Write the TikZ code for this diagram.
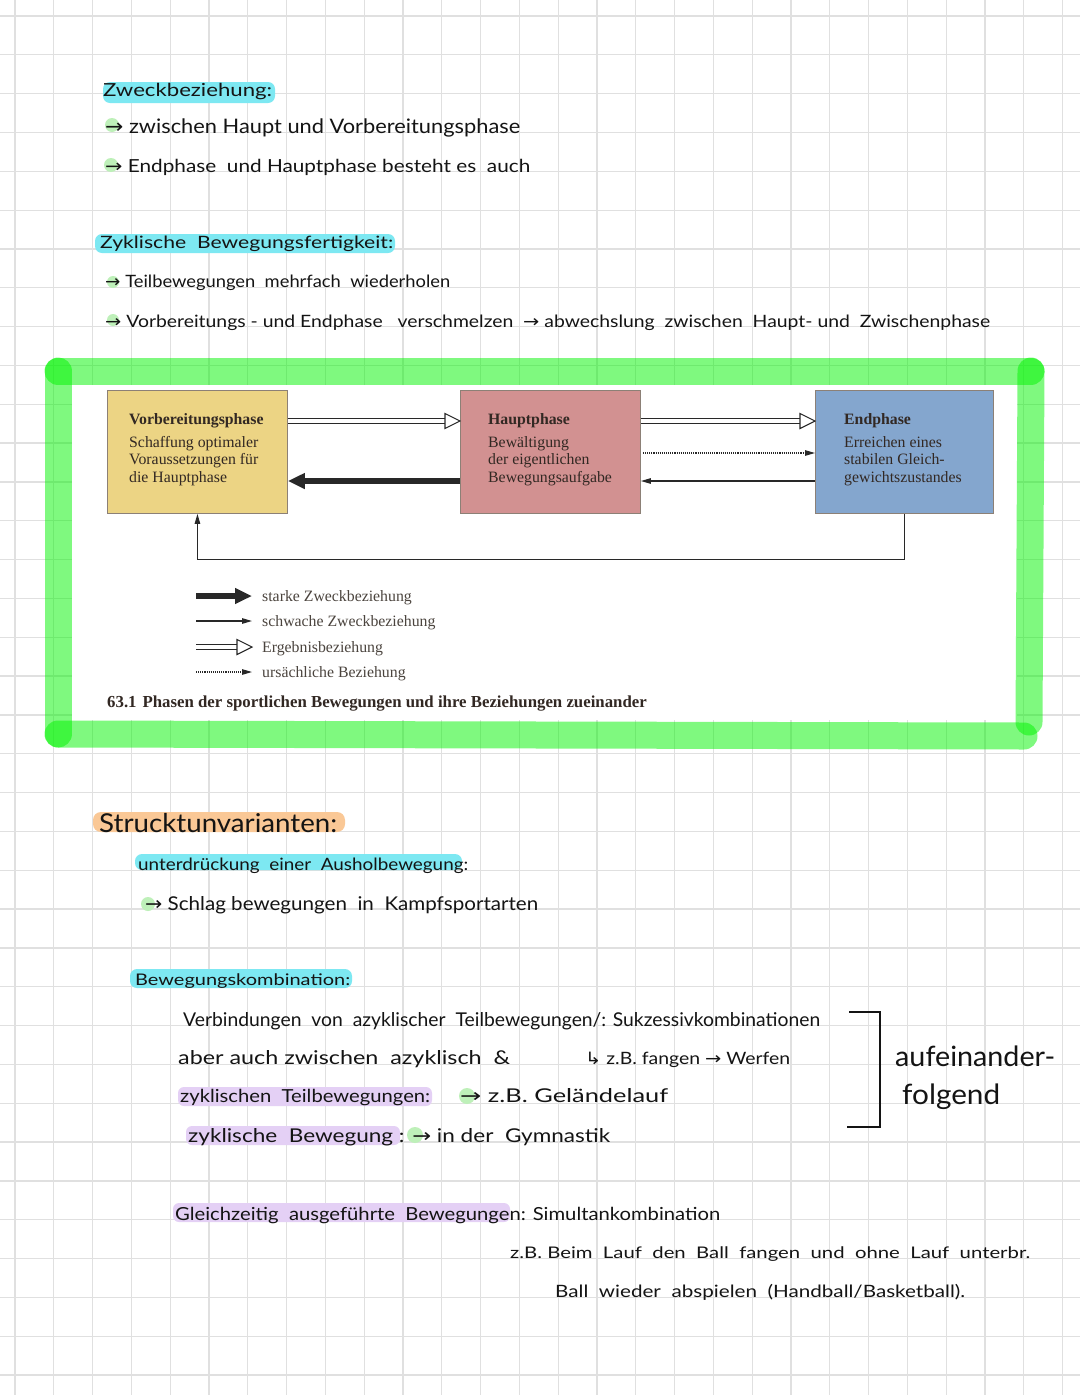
\documentclass[tikz,border=0pt]{standalone}
\usepackage{fontspec}
\usepackage{graphicx}
\setmainfont{Liberation Serif}
\newfontfamily\handfont{Lato}
\newfontfamily\symfont{DejaVu Sans}
\usetikzlibrary{arrows.meta,calc}
\definecolor{gridc}{RGB}{224,224,224}
\definecolor{hlgreen}{RGB}{0,245,0}
\definecolor{hcyan}{RGB}{125,232,242}
\definecolor{horange}{RGB}{250,200,150}
\definecolor{hpurple}{RGB}{228,208,245}
\definecolor{hdot}{RGB}{190,240,185}
\definecolor{boxa}{RGB}{236,212,132}
\definecolor{boxb}{RGB}{210,145,145}
\definecolor{boxc}{RGB}{132,166,206}
\definecolor{boxline}{RGB}{140,128,118}
\definecolor{dtext}{RGB}{50,40,35}
\definecolor{lgtext}{RGB}{75,68,62}
\definecolor{arrc}{RGB}{40,40,40}
\definecolor{inkc}{RGB}{20,20,20}
\newcommand\harr{{\symfont →}}
\newcommand\hwtext[6]{\node[anchor=base west, inner sep=0pt, text=inkc] (#1) at (#2,#3) {\resizebox{#4pt}{\height}{\handfont\fontsize{#5}{#5}\selectfont #6}};}
\newcommand\ergarrow[2]{\draw[ergline] (#1) -- ($(#2)+(-12,0)$); \draw[erghead] (#2) -- ++(-15,-7.5) -- ++(0,15) -- cycle;}
\begin{document}
\begin{tikzpicture}[x=1pt,y=-1pt,
  phase/.style={draw=boxline, line width=0.9pt, minimum width=180pt, minimum height=123pt, inner sep=0pt, anchor=north west},
  phasetext/.style={anchor=north west, inner sep=0pt, align=left, text=dtext, font=\fontsize{15.8}{17.5}\selectfont},
  strongarr/.style={draw=arrc, line width=6pt, -{Triangle[length=17pt,width=15pt]}},
  weakarr/.style={draw=arrc, line width=1.2pt, -{Triangle[length=10pt,width=5.5pt]}},
  causearr/.style={draw=arrc, line width=1.1pt, densely dotted, -{Triangle[length=10pt,width=5.5pt]}},
  ergline/.style={draw=arrc, line width=1.1pt, double=white, double distance=4.4pt},
  erghead/.style={draw=arrc, fill=white, line width=1.1pt, line join=miter},
  legtext/.style={anchor=base west, inner sep=0pt, text=lgtext, font=\fontsize{15.8}{18}\selectfont},
  hlstroke/.style={draw=hlgreen, draw opacity=0.5, line width=27pt, line cap=round},
  hlc/.style={fill=hcyan, rounded corners=7pt},
  hlo/.style={fill=horange, rounded corners=8pt},
  hlp/.style={fill=hpurple, rounded corners=6pt},
]
\useasboundingbox (0,0) rectangle (1080,1395);
\fill[white] (0,0) rectangle (1080,1395);
% grid paper
\foreach \i in {0,...,27} \draw[gridc, line width=1.3pt] ({15+38.8*\i},0) -- ({15+38.8*\i},1395);
\foreach \j in {0,...,35} \draw[gridc, line width=1.3pt] (0,{16+38.83*\j}) -- (1080,{16+38.83*\j});

% ---------- top notes ----------
\fill[hlc] (103,82) rectangle (275,103);
\fill[hdot] (112,125) circle (7);
\fill[hdot] (111,165) circle (7);
\hwtext{hz1}{103}{96}{169}{18}{Zweckbeziehung:}
\hwtext{hz2}{105}{133}{415}{20}{\harr\ zwischen Haupt und Vorbereitungsphase}
\hwtext{hz3}{105}{172}{425}{18}{\harr\ Endphase\ \ und Hauptphase besteht es\ \ auch}

\fill[hlc] (95,234) rectangle (395,253);
\fill[hdot] (113,282) circle (6);
\fill[hdot] (113,320) circle (6);
\hwtext{hy1}{100}{248}{293}{17}{Zyklische\ \ Bewegungsfertigkeit:}
\hwtext{hy2}{105}{287}{345}{17}{\harr\ Teilbewegungen\ \ mehrfach\ \ wiederholen}
\hwtext{hy3}{105}{327}{885}{17}{\harr\ Vorbereitungs - und Endphase\ \ \ verschmelzen\ \ \harr\ abwechslung\ \ zwischen\ \ Haupt- und\ \ Zwischenphase}

% ---------- figure ----------
\fill[white] (72,385) rectangle (1017,720);
\node[phase, fill=boxa] (b1) at (107,390) {};
\node[phase, fill=boxb] (b2) at (460,390) {};
\node[phase, fill=boxc, minimum width=178pt] (b3) at (815,390) {};
\node[phasetext] (t1) at ($(b1.north west)+(22,23)$) {\textbf{Vorbereitungsphase}\\[5.5pt]Schaffung optimaler\\Voraussetzungen für\\die Hauptphase};
\node[phasetext] (t2) at ($(b2.north west)+(28,23)$) {\textbf{Hauptphase}\\[5.5pt]Bewältigung\\der eigentlichen\\Bewegungsaufgabe};
\node[phasetext] (t3) at ($(b3.north west)+(29,23)$) {\textbf{Endphase}\\[5.5pt]Erreichen eines\\stabilen Gleich-\\gewichtszustandes};

\coordinate (e1s) at ($(b1.north east)+(0,31)$);
\coordinate (e1t) at ($(b2.north west)+(0,31)$);
\ergarrow{e1s}{e1t}
\coordinate (s1s) at ($(b2.north west)+(0,91)$);
\coordinate (s1t) at ($(b1.north east)+(0,91)$);
\draw[strongarr] (s1s) -- (s1t);
\coordinate (e2s) at ($(b2.north east)+(0,31)$);
\coordinate (e2t) at ($(b3.north west)+(0,31)$);
\ergarrow{e2s}{e2t}
\coordinate (c1s) at ($(b2.north east)+(2,63)$);
\coordinate (c1t) at ($(b3.north west)+(0,63)$);
\draw[causearr] (c1s) -- (c1t);
\coordinate (w1s) at ($(b3.north west)+(0,91)$);
\coordinate (w1t) at ($(b2.north east)+(0,91)$);
\draw[weakarr] (w1s) -- (w1t);
\draw[weakarr, line width=1pt] (b3.south) -- ++(0,46) -| (b1.south);

% legend
\coordinate (l1a) at (196,596); \coordinate (l1b) at (252,596);
\coordinate (l2a) at (196,621); \coordinate (l2b) at (252,621);
\coordinate (l3a) at (196,647); \coordinate (l3b) at (252,647);
\coordinate (l4a) at (196,672); \coordinate (l4b) at (252,672);
\draw[strongarr] (l1a) -- (l1b);
\draw[weakarr] (l2a) -- (l2b);
\ergarrow{l3a}{l3b}
\draw[causearr] (l4a) -- (l4b);
\node[legtext] (g1) at (262,601) {starke Zweckbeziehung};
\node[legtext] (g2) at (262,626) {schwache Zweckbeziehung};
\node[legtext] (g3) at (262,652) {Ergebnisbeziehung};
\node[legtext] (g4) at (262,677) {ursächliche Beziehung};
\node[anchor=base west, inner sep=0pt, text=dtext, font=\bfseries\fontsize{16.8}{18}\selectfont] (cap) at (107,707) {63.1\hspace{6pt}Phasen der sportlichen Bewegungen und ihre Beziehungen zueinander};

% green highlighter frame
\draw[hlstroke] (58,371) -- (1031,371);
\draw[hlstroke] (58,371) -- (58,734);
\draw[hlstroke] (58,734) -- (1024,736);
\draw[hlstroke] (1031,371) -- (1029,722);

% ---------- lower notes ----------
\fill[hlo] (93,812) rectangle (345,832);
\hwtext{hs0}{99}{832}{238}{26}{Strucktunvarianten:}
\fill[hlc] (135,854) rectangle (462,870);
\hwtext{hs1}{138}{870}{330}{17}{unterdrückung\ \ einer\ \ Ausholbewegung:}
\fill[hdot] (148,904) circle (7);
\hwtext{hs2}{145}{910}{393}{19}{\harr\ Schlag bewegungen\ \ in\ \ Kampfsportarten}

\fill[hlc] (130,969) rectangle (352,988);
\hwtext{hb0}{135}{985}{215}{16}{Bewegungskombination:}
\hwtext{hb1}{183}{1026}{637}{19}{Verbindungen\ \ von\ \ azyklischer\ \ Teilbewegungen/: Sukzessivkombinationen}
\hwtext{hb2}{178}{1064}{332}{19}{aber auch zwischen\ \ azyklisch\ \ \&}
\hwtext{hb3}{585}{1064}{205}{17}{{\symfont ↳} z.B. fangen \harr\ Werfen}
\fill[hlp] (178,1087) rectangle (432,1106);
\fill[hdot] (467,1096) circle (8);
\hwtext{hb4}{180}{1102}{250}{18}{zyklischen\ \ Teilbewegungen:}
\hwtext{hb5}{460}{1102}{208}{19}{\harr\ z.B. Geländelauf}
\fill[hlp] (186,1126) rectangle (400,1145);
\fill[hdot] (415,1135) circle (8);
\hwtext{hb6}{188}{1142}{422}{19}{zyklische\ \ Bewegung\ : \harr\ in der\ \ Gymnastik}

\coordinate (k1) at (849,1012); \coordinate (k2) at (880,1012);
\coordinate (k3) at (880,1127); \coordinate (k4) at (847,1127);
\draw[inkc, line width=2.5pt] (k1) -- (k2) -- (k3) -- (k4);
\hwtext{ha1}{895}{1066}{160}{28}{aufeinander-}
\hwtext{ha2}{902}{1104}{98}{28}{folgend}

\fill[hlp] (173,1203) rectangle (510,1222);
\hwtext{hg1}{175}{1220}{545}{18}{Gleichzeitig\ \ ausgeführte\ \ Bewegungen: Simultankombination}
\hwtext{hg2}{510}{1258}{520}{16}{z.B. Beim\ \ Lauf\ \ den\ \ Ball\ \ fangen\ \ und\ \ ohne\ \ Lauf\ \ unterbr.}
\hwtext{hg3}{555}{1297}{410}{17}{Ball\ \ wieder\ \ abspielen\ \ (Handball/Basketball).}
\end{tikzpicture}
\end{document}
